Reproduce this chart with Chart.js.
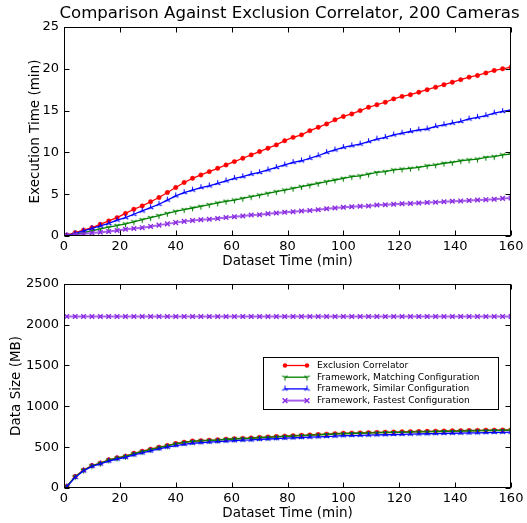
<!DOCTYPE html>
<html><head><meta charset="utf-8">
<script src="https://cdn.jsdelivr.net/npm/chart.js@4/dist/chart.umd.min.js"></script>
<style>
html,body{margin:0;padding:0;background:#fff;}
body{width:527px;height:523px;position:relative;overflow:hidden;}
canvas{position:absolute;left:0;}
#c1{top:0;}
#c2{top:271px;}
</style></head><body>
<canvas id="c1" width="527" height="271"></canvas>
<canvas id="c2" width="527" height="252"></canvas>
<script>
// ---- data ----
const datasetTime = [1,4,7,10,13,16,19,22,25,28,31,34,37,40,43,46,49,52,55,58,61,64,67,70,73,76,79,82,85,88,91,94,97,100,103,106,109,112,115,118,121,124,127,130,133,136,139,142,145,148,151,154,157,160];

const execExclusion = [0.1,0.4,0.7,1.0,1.4,1.8,2.2,2.7,3.2,3.6,4.1,4.6,5.2,5.8,6.4,6.9,7.3,7.7,8.1,8.5,8.9,9.3,9.7,10.1,10.5,10.9,11.4,11.8,12.1,12.6,13.0,13.4,13.9,14.3,14.6,15.0,15.4,15.7,16.0,16.4,16.7,16.9,17.2,17.5,17.8,18.1,18.4,18.7,19.0,19.2,19.5,19.8,20.0,20.2];
const execMatching = [0.05,0.2,0.4,0.6,0.85,1.05,1.25,1.45,1.7,1.95,2.2,2.45,2.7,2.95,3.15,3.35,3.55,3.75,3.95,4.15,4.3,4.5,4.7,4.9,5.1,5.3,5.5,5.7,5.9,6.1,6.3,6.5,6.7,6.9,7.1,7.2,7.4,7.6,7.7,7.9,8.0,8.1,8.2,8.4,8.5,8.7,8.8,9.0,9.1,9.2,9.4,9.5,9.7,9.8];
const execSimilar = [0.05,0.3,0.6,0.9,1.2,1.5,1.9,2.2,2.6,3.0,3.4,3.8,4.3,4.8,5.2,5.5,5.8,6.0,6.3,6.6,6.9,7.1,7.4,7.6,7.9,8.2,8.5,8.8,9.0,9.3,9.6,10.0,10.3,10.6,10.8,11.0,11.3,11.6,11.8,12.1,12.3,12.5,12.7,12.8,13.1,13.3,13.5,13.7,14.0,14.2,14.4,14.7,14.9,15.1];
const execFastest = [0.02,0.15,0.25,0.35,0.45,0.55,0.65,0.8,0.9,1.0,1.15,1.3,1.45,1.6,1.75,1.85,1.95,2.0,2.1,2.2,2.3,2.4,2.5,2.55,2.65,2.75,2.85,2.9,3.0,3.05,3.15,3.25,3.35,3.45,3.5,3.55,3.6,3.7,3.75,3.8,3.85,3.9,3.95,4.0,4.05,4.1,4.15,4.2,4.25,4.3,4.35,4.4,4.5,4.55];

const sizeExclusion = [20,140,220,275,305,345,370,390,425,450,475,500,520,545,560,575,580,585,590,598,605,608,612,620,625,630,635,640,645,650,655,660,665,670,672,675,678,680,683,685,688,690,692,694,696,698,700,702,704,706,708,709,710,712];
const sizeMatching = [18,138,218,272,302,342,366,386,420,446,470,495,515,540,555,570,576,581,586,594,600,604,608,615,620,625,630,635,640,645,650,655,660,664,667,670,672,675,678,680,682,684,686,688,690,692,694,696,698,700,702,704,706,708];
const sizeSimilar = [15,130,210,265,295,330,355,375,405,430,455,480,500,520,535,548,555,562,568,575,580,585,588,595,600,605,610,614,618,622,626,630,635,640,642,645,648,650,652,655,657,660,662,664,666,668,670,672,674,676,678,680,682,684];
const sizeFastest = [2100,2100,2100,2100,2100,2100,2100,2100,2100,2100,2100,2100,2100,2100,2100,2100,2100,2100,2100,2100,2100,2100,2100,2100,2100,2100,2100,2100,2100,2100,2100,2100,2100,2100,2100,2100,2100,2100,2100,2100,2100,2100,2100,2100,2100,2100,2100,2100,2100,2100,2100,2100,2100,2100];

const seriesNames = ['Exclusion Correlator','Framework, Matching Configuration','Framework, Similar Configuration','Framework, Fastest Configuration'];
const xTickValues = [0,20,40,60,80,100,120,140,160];
const execTickValues = [0,5,10,15,20,25];
const sizeTickValues = [0,500,1000,1500,2000,2500];
const chartTitle = 'Comparison Against Exclusion Correlator, 200 Cameras';
const xAxisLabel = 'Dataset Time (min)';
const execAxisLabel = 'Execution Time (min)';
const sizeAxisLabel = 'Data Size (MB)';

// ---- styles ----
const FONT = 'DejaVu Sans';
const RED = '#ff0000', GREEN = '#008000', BLUE = '#0000ff', PURPLE = '#8a2be2', PURPLE_LINE = 'rgba(138,43,226,0.75)';

function makeTri(color, down) {
  const c = document.createElement('canvas');
  c.width = 9; c.height = 9;
  const g = c.getContext('2d');
  const m = 4.5, r = 3.2;
  g.strokeStyle = color; g.lineWidth = 1.1;
  const s = down ? 1 : -1;
  g.beginPath();
  g.moveTo(m, m); g.lineTo(m, m + s * r);
  g.moveTo(m, m); g.lineTo(m - r * 0.866, m - s * r * 0.5);
  g.moveTo(m, m); g.lineTo(m + r * 0.866, m - s * r * 0.5);
  g.stroke();
  return c;
}
const triDownGreen = makeTri(GREEN, true);
const triUpBlue = makeTri(BLUE, false);

function pts(ys) { return datasetTime.map((x, i) => ({x, y: ys[i]})); }

function makeDatasets(a, b, c, d) {
  return [
    {label: seriesNames[0], data: pts(a), borderColor: RED, backgroundColor: RED, borderWidth: 1.3,
     pointStyle: 'circle', pointRadius: 2.2, pointBorderWidth: 0.5, pointBorderColor: RED, order: 4},
    {label: seriesNames[1], data: pts(b), borderColor: GREEN, backgroundColor: GREEN, borderWidth: 1.3,
     pointStyle: triDownGreen, pointRadius: 3, order: 3},
    {label: seriesNames[2], data: pts(c), borderColor: BLUE, backgroundColor: BLUE, borderWidth: 1.3,
     pointStyle: triUpBlue, pointRadius: 3, order: 2},
    {label: seriesNames[3], data: pts(d), borderColor: PURPLE_LINE, backgroundColor: PURPLE, borderWidth: 2,
     pointStyle: 'crossRot', pointRadius: 3.2, pointBorderWidth: 1.4, pointBorderColor: PURPLE, order: 1}
  ];
}

const frameTicks = {
  id: 'frameTicks',
  afterDraw(chart) {
    const {ctx, chartArea: a, scales: {x, y}} = chart;
    const L = Math.round(a.left) + 0.5, R = Math.round(a.right) - 0.5;
    const T = Math.round(a.top) + 0.5, B = Math.round(a.bottom) - 0.5;
    ctx.save();
    ctx.strokeStyle = '#000'; ctx.lineWidth = 1;
    ctx.strokeRect(L, T, R - L, B - T);
    ctx.beginPath();
    const tl = 5;
    x.ticks.forEach(t => {
      const px = Math.round(x.getPixelForValue(t.value)) + 0.5;
      ctx.moveTo(px, B); ctx.lineTo(px, B - tl);
      ctx.moveTo(px, T); ctx.lineTo(px, T + tl);
    });
    y.ticks.forEach(t => {
      const py = Math.round(y.getPixelForValue(t.value)) + 0.5;
      ctx.moveTo(L, py); ctx.lineTo(L + tl, py);
      ctx.moveTo(R, py); ctx.lineTo(R - tl, py);
    });
    ctx.stroke();
    ctx.restore();
  }
};

const centerTitle = {
  id: 'centerTitle',
  afterDraw(chart, args, opts) {
    if (!opts.text) return;
    const {ctx, chartArea: a} = chart;
    ctx.save();
    ctx.font = '16.6px "' + FONT + '"';
    ctx.fillStyle = '#000'; ctx.textAlign = 'center'; ctx.textBaseline = 'middle';
    ctx.fillText(opts.text, (a.left + a.right) / 2 + 2, opts.y);
    ctx.restore();
  }
};

const boxLegend = {
  id: 'boxLegend',
  afterDraw(chart, args, opts) {
    if (!opts.show) return;
    const {ctx} = chart;
    const bx = opts.x, by = opts.y, bw = opts.w, bh = opts.h;
    ctx.save();
    ctx.fillStyle = '#fff';
    ctx.fillRect(bx, by, bw, bh);
    ctx.strokeStyle = '#000'; ctx.lineWidth = 1;
    ctx.strokeRect(bx + 0.5, by + 0.5, bw, bh);
    ctx.font = '9.1px "' + FONT + '"';
    ctx.textBaseline = 'middle'; ctx.textAlign = 'left';
    chart.data.datasets.forEach((ds, i) => {
      const cy = by + opts.rowTop + i * opts.rowH;
      const x0 = bx + opts.lineX0, x1 = bx + opts.lineX1;
      ctx.strokeStyle = ds.borderColor; ctx.lineWidth = ds.borderWidth;
      ctx.beginPath(); ctx.moveTo(x0, cy); ctx.lineTo(x1, cy); ctx.stroke();
      [x0, x1].forEach(px => {
        const st = ds.pointStyle;
        if (st instanceof HTMLCanvasElement) {
          ctx.drawImage(st, px - st.width / 2, cy - st.height / 2);
        } else if (st === 'circle') {
          ctx.fillStyle = ds.backgroundColor;
          ctx.beginPath(); ctx.arc(px, cy, ds.pointRadius, 0, Math.PI * 2); ctx.fill();
        } else if (st === 'crossRot') {
          const r = ds.pointRadius * 0.75;
          ctx.strokeStyle = ds.pointBorderColor; ctx.lineWidth = ds.pointBorderWidth;
          ctx.beginPath();
          ctx.moveTo(px - r, cy - r); ctx.lineTo(px + r, cy + r);
          ctx.moveTo(px - r, cy + r); ctx.lineTo(px + r, cy - r);
          ctx.stroke();
        }
      });
      ctx.fillStyle = '#000';
      ctx.fillText(ds.label, bx + opts.textX, cy);
    });
    ctx.restore();
  }
};

function makeChart(canvas, datasets, yMax, yLabel, yTicks, cfg) {
  return new Chart(canvas, {
    type: 'line',
    data: {datasets},
    plugins: [frameTicks, centerTitle, boxLegend],
    options: {
      responsive: false,
      animation: false,
      events: [],
      layout: {padding: {left: cfg.padLeft, right: 16, top: cfg.padTop, bottom: 0}},
      elements: {line: {tension: 0}},
      plugins: {
        legend: {display: false},
        tooltip: {enabled: false},
        title: {display: false},
        centerTitle: {text: cfg.title, y: 14},
        boxLegend: cfg.legend || {show: false}
      },
      scales: {
        x: {
          type: 'linear', min: 0, max: 160,
          afterBuildTicks: s => { s.ticks = xTickValues.map(v => ({value: v})); },
          afterFit: s => { s.height = 35; },
          grid: {display: false, drawTicks: false},
          border: {display: false},
          ticks: {padding: 3, color: '#000', font: {family: FONT, size: 13}, maxRotation: 0, autoSkip: false,
                  callback: v => String(v)},
          title: {display: true, text: xAxisLabel, color: '#000', font: {family: FONT, size: 13.5}, padding: {top: 0, bottom: 1}}
        },
        y: {
          type: 'linear', min: 0, max: yMax,
          afterBuildTicks: s => { s.ticks = yTicks.map(v => ({value: v})); },
          afterFit: s => { s.width = 64 - cfg.padLeft; },
          grid: {display: false, drawTicks: false},
          border: {display: false},
          ticks: {padding: 5, color: '#000', font: {family: FONT, size: 13}, autoSkip: false,
                  callback: v => String(v)},
          title: {display: true, text: yLabel, color: '#000', font: {family: FONT, size: 13.5}, padding: {top: 0, bottom: 0}}
        }
      }
    }
  });
}

makeChart(document.getElementById('c1'),
  makeDatasets(execExclusion, execMatching, execSimilar, execFastest),
  25, execAxisLabel, execTickValues,
  {padLeft: 27, padTop: 27, title: chartTitle});

makeChart(document.getElementById('c2'),
  makeDatasets(sizeExclusion, sizeMatching, sizeSimilar, sizeFastest),
  2500, sizeAxisLabel, sizeTickValues,
  {padLeft: 8, padTop: 8, title: '',
   legend: {show: true, x: 263, y: 86, w: 235, h: 52, rowTop: 8.5, rowH: 11.7, lineX0: 22, lineX1: 44, textX: 54}});
</script>
</body></html>
